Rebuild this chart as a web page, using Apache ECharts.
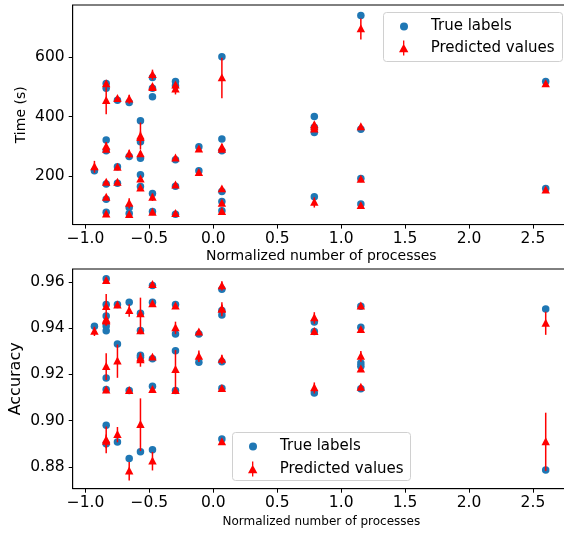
<!DOCTYPE html>
<html>
<head>
<meta charset="utf-8">
<script src="https://cdn.jsdelivr.net/npm/echarts@6/dist/echarts.min.js"></script>
<style>
  html, body { margin: 0; padding: 0; background: #fff; }
  #main { width: 564px; height: 533px; }
</style>
</head>
<body>
<div id="main"></div>
<script>
// top panel: run time (s) against normalized number of processes
const timeX = [-0.93,
  -0.838, -0.838, -0.838, -0.838, -0.838, -0.838, -0.838,
  -0.75, -0.75, -0.75,
  -0.658, -0.658, -0.658, -0.658,
  -0.57, -0.57, -0.57, -0.57, -0.57,
  -0.476, -0.476, -0.476, -0.476, -0.476,
  -0.296, -0.296, -0.296, -0.296, -0.296,
  -0.113, -0.113,
  0.067, 0.067, 0.067, 0.067, 0.067, 0.067,
  0.79, 0.79, 0.79, 0.79,
  1.154, 1.154, 1.154, 1.154,
  2.60, 2.60];
const timeTrue = [219,
  511, 495, 322, 286, 175, 124, 80,
  455, 232, 177,
  447, 267, 96, 76,
  386, 316, 261, 206, 166,
  531, 495, 466, 143, 83,
  517, 503, 256, 167, 74,
  299, 219,
  600, 325, 286, 150, 116, 85,
  400, 364, 347, 132,
  738, 358, 193, 108,
  517, 160];
const timePred = [232,
  509, 453, 300, 290, 180, 130, 74,
  460, 230, 180,
  458, 275, 110, 72,
  335, 330, 275, 191, 161,
  540, 500, 497, 130, 80,
  505, 492, 261, 171, 76,
  291, 213,
  529, 297, 290, 158, 110, 82,
  372, 366, 358, 113,
  693, 366, 190, 102,
  509, 154];
const timeErr = [20,
  8, 45, 15, 8, 6, 8, 5,
  6, 6, 5,
  15, 14, 17, 6,
  45, 20, 10, 6, 5,
  17, 8, 8, 12, 5,
  8, 18, 6, 6, 5,
  6, 6,
  68, 12, 6, 8, 6, 5,
  10, 6, 6, 17,
  35, 6, 6, 5,
  6, 5];

// bottom panel: accuracy
const accX = [-0.93,
  -0.838, -0.838, -0.838, -0.838, -0.838, -0.838, -0.838, -0.838, -0.838,
  -0.75, -0.75, -0.75,
  -0.658, -0.658, -0.658,
  -0.57, -0.57, -0.57, -0.57, -0.57,
  -0.476, -0.476, -0.476, -0.476, -0.476,
  -0.296, -0.296, -0.296, -0.296,
  -0.113, -0.113,
  0.067, 0.067, 0.067, 0.067, 0.067, 0.067,
  0.79, 0.79, 0.79,
  1.154, 1.154, 1.154, 1.154, 1.154,
  2.60, 2.60];
const accTrue = [0.9408,
  0.9614, 0.9502, 0.9453, 0.9409, 0.9389, 0.9184, 0.9134, 0.8980, 0.8900,
  0.9502, 0.9331, 0.8907,
  0.9512, 0.9130, 0.8836,
  0.9464, 0.9390, 0.9283, 0.9274, 0.8865,
  0.9585, 0.9512, 0.9268, 0.9148, 0.8874,
  0.9502, 0.9375, 0.9302, 0.9130,
  0.9375, 0.9252,
  0.9568, 0.9476, 0.9457, 0.9255, 0.9140, 0.8920,
  0.9427, 0.9386, 0.9119,
  0.9495, 0.9404, 0.9249, 0.9235, 0.9138,
  0.9483, 0.8786];
const accPred = [0.9386,
  0.9606, 0.9493, 0.9438, 0.9430, 0.9432, 0.9233, 0.9132, 0.8916, 0.8910,
  0.9500, 0.9257, 0.8939,
  0.9476, 0.9130, 0.8781,
  0.9462, 0.9388, 0.9263, 0.9270, 0.8982,
  0.9588, 0.9505, 0.9274, 0.9134, 0.8824,
  0.9495, 0.9401, 0.9220, 0.9130,
  0.9383, 0.9278,
  0.9583, 0.9482, 0.9482, 0.9265, 0.9138, 0.8908,
  0.9444, 0.9385, 0.9141,
  0.9495, 0.9393, 0.9278, 0.9223, 0.9144,
  0.9421, 0.8908];
const accErr = [0.002,
  0.001, 0.0055, 0.002, 0.002, 0.002, 0.0058, 0.001, 0.0058, 0.003,
  0.001, 0.0072, 0.0033,
  0.0027, 0.001, 0.004,
  0.007, 0.001, 0.003, 0.002, 0.0114,
  0.001, 0.001, 0.001, 0.001, 0.004,
  0.001, 0.0027, 0.0085, 0.001,
  0.001, 0.0025,
  0.002, 0.003, 0.002, 0.002, 0.001, 0.001,
  0.0025, 0.001, 0.0024,
  0.001, 0.001, 0.0023, 0.001, 0.001,
  0.005, 0.0126];

const xTicks = [-1.0, -0.5, 0.0, 0.5, 1.0, 1.5, 2.0, 2.5];
const timeTicks = [200, 400, 600];
const accTicks = [0.88, 0.90, 0.92, 0.94, 0.96];

const FONT = 'DejaVu Sans';
const BLUE = '#1f77b4';
const RED = '#ff0000';
const predIcon = 'path://M4.3,0 L5.7,0 L5.7,16 L4.3,16 Z M0,12.5 L5,3.5 L10,12.5 Z';

const minus = (v) => (v < 0 ? '\u2212' : '') + Math.abs(v).toFixed(1);

function xAxisFor(gridIndex, nameSize, nameGap) {
  return {
    gridIndex, type: 'value', min: -1.1, max: 2.79,
    name: 'Normalized number of processes', nameLocation: 'middle', nameGap,
    nameMoveOverlap: false,
    nameTextStyle: { fontFamily: FONT, fontSize: nameSize, color: '#000' },
    axisLine: { show: true, onZero: false, lineStyle: { color: '#000', width: 1 } },
    axisTick: { show: true, length: 4, customValues: xTicks, lineStyle: { color: '#000' } },
    axisLabel: { customValues: xTicks, formatter: minus, margin: 6,
      fontFamily: FONT, fontSize: 15.5, color: '#000' },
    splitLine: { show: false }
  };
}

function yAxisFor(gridIndex, min, max, ticks, digits, name, nameSize, nameGap) {
  return {
    gridIndex, type: 'value', min, max,
    name, nameLocation: 'middle', nameGap,
    nameMoveOverlap: false,
    nameTextStyle: { fontFamily: FONT, fontSize: nameSize, color: '#000' },
    axisLine: { show: true, onZero: false, lineStyle: { color: '#000', width: 1 } },
    axisTick: { show: true, length: 4, customValues: ticks, lineStyle: { color: '#000' } },
    axisLabel: { customValues: ticks, formatter: (v) => v.toFixed(digits), margin: 8,
      fontFamily: FONT, fontSize: 15.5, color: '#000' },
    splitLine: { show: false }
  };
}

// red triangle with vertical error bar
function renderPred(params, api) {
  const x = api.value(0), y = api.value(1), e = api.value(2);
  const lo = api.coord([x, y - e]);
  const hi = api.coord([x, y + e]);
  const c = api.coord([x, y]);
  const s = 4.2;
  return {
    type: 'group',
    children: [
      { type: 'line', shape: { x1: lo[0], y1: lo[1], x2: hi[0], y2: hi[1] },
        style: { stroke: RED, lineWidth: 1.5 } },
      { type: 'polygon',
        shape: { points: [[c[0], c[1] - s * 1.1], [c[0] - s, c[1] + s * 0.8], [c[0] + s, c[1] + s * 0.8]] },
        style: { fill: RED } }
    ]
  };
}

// icon centred at iconX, text starting at iconX + 27
function legendPair(iconX, top1, top2) {
  const text = (pad) => ({ fontFamily: FONT, fontSize: 15, color: '#000', padding: [0, 0, 0, pad] });
  const base = { orient: 'vertical', padding: 0, selectedMode: false };
  return [
    Object.assign({}, base, { left: iconX - 4, top: top1, itemWidth: 8, itemHeight: 8,
      textStyle: text(18),
      data: [{ name: 'True labels', icon: 'circle', itemStyle: { color: BLUE } }] }),
    Object.assign({}, base, { left: iconX - 5, top: top2, itemWidth: 10, itemHeight: 15,
      textStyle: text(17),
      data: [{ name: 'Predicted values', icon: predIcon, itemStyle: { color: RED } }] })
  ];
}

function frame(x, y, w, h) {
  return { type: 'rect', left: x, top: y, z: 3,
    shape: { width: w, height: h, r: 3 },
    style: { fill: 'rgba(255,255,255,0.8)', stroke: '#d0d0d0', lineWidth: 1 } };
}

const timeTrueData = timeX.map((x, i) => [x, timeTrue[i]]);
const timePredData = timeX.map((x, i) => [x, timePred[i], timeErr[i]]);
const accTrueData = accX.map((x, i) => [x, accTrue[i]]);
const accPredData = accX.map((x, i) => [x, accPred[i], accErr[i]]);

const chart = echarts.init(document.getElementById('main'), null, { renderer: 'canvas' });
chart.setOption({
  animation: false,
  backgroundColor: '#fff',
  grid: [
    { left: 72.7, right: -6, top: 5, bottom: 308.4, outerBoundsMode: 'none',
      show: true, borderColor: '#000', borderWidth: 1 },
    { left: 72.7, right: -6, top: 269, bottom: 44.3, outerBoundsMode: 'none',
      show: true, borderColor: '#000', borderWidth: 1 }
  ],
  xAxis: [xAxisFor(0, 14, 24.5), xAxisFor(1, 12, 27)],
  yAxis: [
    yAxisFor(0, 39, 773, timeTicks, 0, 'Time (s)', 14, 44.5),
    yAxisFor(1, 0.8705, 0.9656, accTicks, 2, 'Accuracy', 16, 48.5)
  ],
  legend: legendPair(404, 19, 40.5).concat(legendPair(253, 439, 461.5)),
  graphic: [frame(383, 12, 179, 49), frame(232, 432, 178, 48)],
  series: [
    { name: 'True labels', type: 'scatter', xAxisIndex: 0, yAxisIndex: 0, z: 2,
      symbol: 'circle', symbolSize: 7.5, itemStyle: { color: BLUE, opacity: 1 }, data: timeTrueData },
    { name: 'Predicted values', type: 'custom', xAxisIndex: 0, yAxisIndex: 0, z: 3,
      renderItem: renderPred, encode: { x: 0, y: 1 }, itemStyle: { color: RED }, data: timePredData },
    { name: 'True labels', type: 'scatter', xAxisIndex: 1, yAxisIndex: 1, z: 2,
      symbol: 'circle', symbolSize: 7.5, itemStyle: { color: BLUE, opacity: 1 }, data: accTrueData },
    { name: 'Predicted values', type: 'custom', xAxisIndex: 1, yAxisIndex: 1, z: 3,
      renderItem: renderPred, encode: { x: 0, y: 1 }, itemStyle: { color: RED }, data: accPredData }
  ]
});
</script>
</body>
</html>
